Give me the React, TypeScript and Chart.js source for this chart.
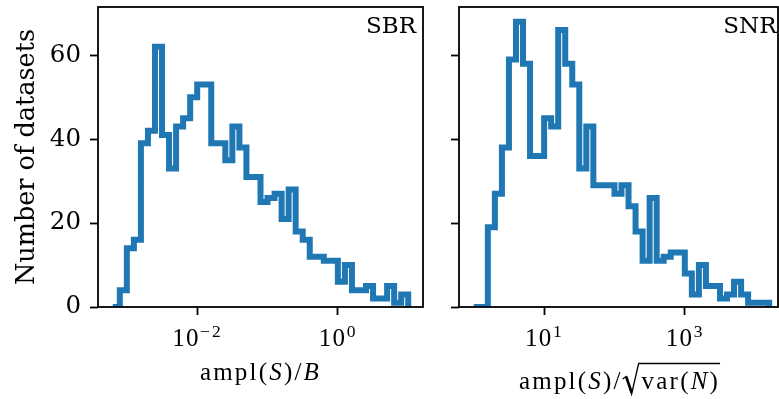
import React, { useEffect, useRef } from "react";
import { Chart, registerables } from "chart.js";

Chart.register(...registerables);

// ---- data (bin edges are log10 exponents, equally spaced) ----
const sbrLogLo = -3.2;
const sbrLogHi = 1.0;
const sbrCounts = [
  0, 4, 14, 16, 39, 42, 62, 41, 33, 43, 45, 50, 53, 53, 39, 39, 35, 43, 38, 31, 31,
  25, 26, 27, 21, 28, 18, 16, 12, 12, 11, 11, 6, 10, 4, 4, 5, 2, 2, 5, 1, 3,
];
const snrLogLo = 0.0;
const snrLogHi = 4.2;
const snrCounts = [
  0, 0, 19, 27, 38, 59, 68, 58, 36, 36, 45, 43, 66, 58, 53, 33, 43, 29, 29, 29, 27,
  29, 24, 18, 11, 26, 11, 12, 13, 13, 8, 3, 10, 5, 5, 2, 3, 6, 3, 1, 1, 1,
];
const yTicks = [0, 20, 40, 60];
const sbrXTicks = [-2, 0];
const snrXTicks = [1, 3];
const yMax = 71.5;

const BLUE = "#1f77b4";
const SERIF = '"DejaVu Serif"';
const MATH = '"Liberation Serif"';
const MS = 25; // math font size

function stepPoints(lo: number, hi: number, counts: number[]) {
  const n = counts.length;
  const edges = counts.map((_, i) => lo + ((hi - lo) * i) / n).concat([hi]);
  const pts: { x: number; y: number }[] = [{ x: edges[0], y: 0 }];
  counts.forEach((c, i) => pts.push({ x: edges[i], y: c }));
  pts.push({ x: edges[n], y: 0 });
  return pts;
}

type Seg = { t: string; it?: boolean };

function spacedWidth(ctx: CanvasRenderingContext2D, s: string, sp: number) {
  let w = 0;
  for (const ch of s) w += ctx.measureText(ch).width + sp;
  return w;
}
function drawSpaced(ctx: CanvasRenderingContext2D, s: string, x: number, y: number, sp: number) {
  let cx = x;
  for (const ch of s) {
    ctx.fillText(ch, cx, y);
    cx += ctx.measureText(ch).width + sp;
  }
  return cx;
}

const SP = 2.2;
function segWidth(ctx: CanvasRenderingContext2D, segs: Seg[]) {
  let w = 0;
  segs.forEach((s) => {
    ctx.font = `${s.it ? "italic " : ""}${MS}px ${MATH}`;
    w += spacedWidth(ctx, s.t, SP);
  });
  return w;
}
function drawSegs(ctx: CanvasRenderingContext2D, segs: Seg[], x: number, y: number) {
  let cx = x;
  segs.forEach((s) => {
    ctx.font = `${s.it ? "italic " : ""}${MS}px ${MATH}`;
    cx = drawSpaced(ctx, s.t, cx, y, SP);
  });
  return cx;
}

function drawPow(ctx: CanvasRenderingContext2D, x: number, baseY: number, exp: number) {
  const e = exp < 0 ? "\u2212" + Math.abs(exp) : String(exp);
  ctx.font = `${MS}px ${MATH}`;
  const w1 = spacedWidth(ctx, "10", 1.2);
  ctx.font = `${MS * 0.7}px ${MATH}`;
  const w2 = spacedWidth(ctx, e, 2);
  const start = x - (w1 + w2) / 2;
  ctx.textAlign = "left";
  ctx.textBaseline = "alphabetic";
  ctx.font = `${MS}px ${MATH}`;
  drawSpaced(ctx, "10", start, baseY, 1.2);
  ctx.font = `${MS * 0.7}px ${MATH}`;
  drawSpaced(ctx, e, start + w1 + 0.5, baseY - 9.5, 2);
}

function makePlugin(kind: "sbr" | "snr") {
  return {
    id: "decor_" + kind,
    afterDraw(chart: any) {
      const ctx: CanvasRenderingContext2D = chart.ctx;
      const a = chart.chartArea;
      const xs = chart.scales.x;
      ctx.save();
      // spines
      ctx.strokeStyle = "#000";
      ctx.lineWidth = 1.8;
      ctx.strokeRect(a.left, a.top, a.right - a.left, a.bottom - a.top);
      ctx.fillStyle = "#000";
      // x tick labels
      const ticks = kind === "sbr" ? sbrXTicks : snrXTicks;
      ticks.forEach((v) => drawPow(ctx, xs.getPixelForValue(v), 346, v));
      // panel label
      ctx.font = `23px ${SERIF}`;
      ctx.textAlign = "right";
      ctx.textBaseline = "alphabetic";
      ctx.fillText(kind === "sbr" ? "SBR" : "SNR", kind === "sbr" ? a.right - 7 : a.right - 1.5, 33);
      ctx.textAlign = "left";
      if (kind === "sbr") {
        const segs: Seg[] = [{ t: "ampl(" }, { t: "S", it: true }, { t: ")/" }, { t: "B", it: true }];
        const w = segWidth(ctx, segs);
        const cx = xs.getPixelForValue((sbrLogLo + sbrLogHi) / 2);
        drawSegs(ctx, segs, cx - w / 2, 380);
        // y label
        ctx.save();
        ctx.translate(27, (a.top + a.bottom) / 2);
        ctx.rotate(-Math.PI / 2);
        ctx.font = `25.5px ${SERIF}`;
        ctx.textAlign = "center";
        ctx.textBaseline = "middle";
        ctx.fillText("Number of datasets", 0, 0);
        ctx.restore();
      } else {
        const pre: Seg[] = [{ t: "ampl(" }, { t: "S", it: true }, { t: ")/" }];
        const post: Seg[] = [{ t: "var(" }, { t: "N", it: true }, { t: ")" }];
        const radW = 19;
        const w = segWidth(ctx, pre) + radW + segWidth(ctx, post);
        const cx = xs.getPixelForValue((snrLogLo + snrLogHi) / 2) - 2;
        const by = 389;
        let x0 = cx - w / 2;
        x0 = drawSegs(ctx, pre, x0, by);
        const rx = x0;
        const endX = drawSegs(ctx, post, rx + radW, by);
        ctx.beginPath();
        ctx.lineWidth = 1.3;
        ctx.lineJoin = "miter";
        ctx.moveTo(rx, by - 10);
        ctx.lineTo(rx + 3.5, by - 12.5);
        ctx.lineTo(rx + 9, by + 5);
        ctx.lineTo(rx + 16, by - 25.5);
        ctx.lineTo(endX, by - 25.5);
        ctx.stroke();
        ctx.beginPath();
        ctx.lineWidth = 2.6;
        ctx.moveTo(rx + 3.5, by - 12.5);
        ctx.lineTo(rx + 9, by + 3.5);
        ctx.stroke();
      }
      ctx.restore();
    },
  };
}

function makeConfig(kind: "sbr" | "snr"): any {
  const isSbr = kind === "sbr";
  const pts = isSbr ? stepPoints(sbrLogLo, sbrLogHi, sbrCounts) : stepPoints(snrLogLo, snrLogHi, snrCounts);
  const xTicks = isSbr ? sbrXTicks : snrXTicks;
  const span = isSbr ? sbrLogHi - sbrLogLo : snrLogHi - snrLogLo;
  const lo = isSbr ? sbrLogLo : snrLogLo;
  const xMin = lo - 0.05 * span;
  const pxPerDec = 325 / (1.1 * span);
  const xMax = isSbr ? lo + 1.05 * span : xMin + 319 / pxPerDec;
  const gridCommon = {
    display: true,
    drawOnChartArea: false,
    drawTicks: true,
    tickLength: 8,
    tickWidth: 1.8,
    tickColor: "#000",
    color: "#000",
  };
  return {
    type: "line",
    data: {
      datasets: [
        {
          data: pts,
          stepped: "before",
          borderColor: BLUE,
          borderWidth: 6,
          pointRadius: 0,
          fill: false,
          tension: 0,
          borderJoinStyle: "miter",
          borderCapStyle: "butt",
        },
      ],
    },
    options: {
      animation: false,
      responsive: false,
      events: [],
      layout: { padding: { left: 0, right: isSbr ? 17 : 1, top: 7, bottom: 0 } },
      plugins: { legend: { display: false }, tooltip: { enabled: false } },
      scales: {
        x: {
          type: "linear",
          min: xMin,
          max: xMax,
          grid: gridCommon,
          border: { display: false },
          ticks: { display: false },
          afterBuildTicks: (s: any) => {
            s.ticks = xTicks.map((v) => ({ value: v }));
          },
          afterFit: (s: any) => {
            s.height = 92;
            s.paddingLeft = 0;
            s.paddingRight = 0;
          },
        },
        y: {
          type: "linear",
          min: 0,
          max: yMax,
          grid: gridCommon,
          border: { display: false },
          ticks: {
            display: isSbr,
            color: "#000",
            padding: 9,
            font: { family: "DejaVu Serif", size: 24.5 },
          },
          afterBuildTicks: (s: any) => {
            s.ticks = yTicks.map((v) => ({ value: v }));
          },
          afterFit: (s: any) => {
            s.width = isSbr ? 98 : 19;
            s.paddingTop = 0;
            s.paddingBottom = 0;
          },
        },
      },
    },
    plugins: [makePlugin(kind)],
  };
}

function Panel({ kind, left, width }: { kind: "sbr" | "snr"; left: number; width: number }) {
  const ref = useRef<HTMLCanvasElement | null>(null);
  useEffect(() => {
    if (!ref.current) return;
    const chart = new Chart(ref.current, makeConfig(kind));
    return () => chart.destroy();
  }, [kind]);
  return (
    <canvas
      ref={ref}
      width={width}
      height={399}
      style={{ position: "absolute", left, top: 0, width, height: 399 }}
    />
  );
}

export default function App() {
  return (
    <div
      style={{
        position: "fixed",
        left: 0,
        top: 0,
        width: 779,
        height: 399,
        overflow: "hidden",
        background: "#fff",
      }}
    >
      <Panel kind="sbr" left={0} width={440} />
      <Panel kind="snr" left={440} width={339} />
    </div>
  );
}
